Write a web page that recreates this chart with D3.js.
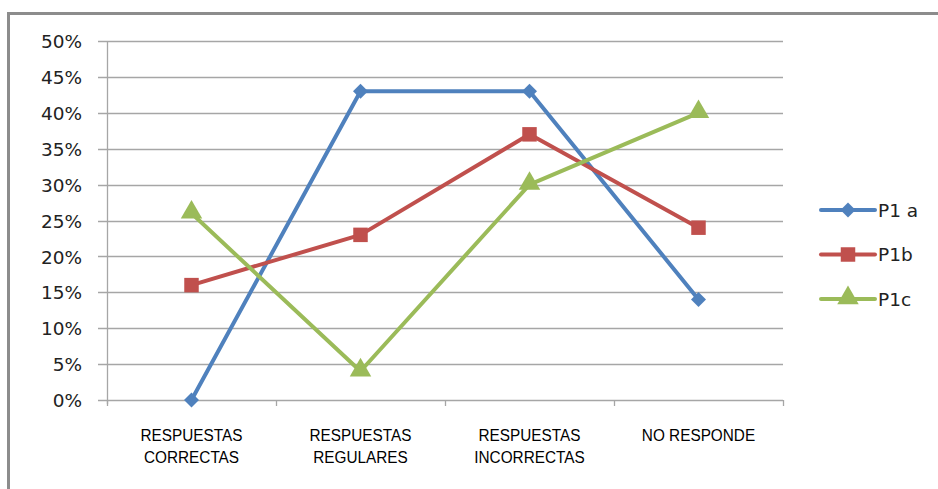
<!DOCTYPE html>
<html><head><meta charset="utf-8">
<script src="https://cdn.jsdelivr.net/npm/d3@7"></script>
<style>body{margin:0;background:#fff}svg{display:block}</style>
</head><body>
<svg id="c" width="938" height="489"></svg>
<script>
const categories = [["RESPUESTAS","CORRECTAS"],["RESPUESTAS","REGULARES"],["RESPUESTAS","INCORRECTAS"],["NO RESPONDE"]];
const seriesNames = ["P1 a","P1b","P1c"];
const p1a = [0, 43, 43, 14];
const p1b = [16, 23, 37, 24];
const p1c = [26, 4, 30, 40];
const yTicks = [0,5,10,15,20,25,30,35,40,45,50];
const colors = ["#4F81BD","#C0504D","#9BBB59"];

const svg = d3.select("#c");
const tickFont = "'DejaVu Sans','Liberation Sans',sans-serif";
const catFont = "'Liberation Sans',sans-serif";

// marker shapes
const diamond = {draw(ctx,size){const r=Math.sqrt(size/2);ctx.moveTo(0,-r);ctx.lineTo(r,0);ctx.lineTo(0,r);ctx.lineTo(-r,0);ctx.closePath();}};
const symbols = [diamond, d3.symbolSquare, d3.symbolTriangle];
const symSizes = [112, 210, 200];

// outer frame
svg.append("rect").attr("x",8.5).attr("y",13.5).attr("width",1000).attr("height",600)
  .attr("fill","none").attr("stroke","#8c8c8c").attr("stroke-width",3);

const x = d3.scaleBand().domain(d3.range(categories.length)).range([107,783]);
const y = d3.scaleLinear().domain([0,50]).range([400,41]);

// gridlines
svg.append("g").selectAll("line").data(yTicks).join("line")
  .attr("x1",98).attr("x2",783).attr("y1",d=>Math.round(y(d))+0.5).attr("y2",d=>Math.round(y(d))+0.5)
  .attr("stroke","#a6a6a6").attr("stroke-width",1.3);
const yAxis = d3.axisLeft(y).tickValues(yTicks).tickFormat(d=>d+"%").tickSize(0).tickPadding(25);
const gy = svg.append("g").attr("transform","translate(107,0)").call(yAxis);
gy.select(".domain").remove();
gy.selectAll("text").attr("font-family",tickFont).attr("font-size",18.5).attr("fill","#222").attr("dy","0.36em");
// y axis line
svg.append("line").attr("x1",107.5).attr("x2",107.5).attr("y1",41).attr("y2",404).attr("stroke","#a6a6a6").attr("stroke-width",1.3);

// x axis ticks
const bounds = d3.range(categories.length+1).map(i=>107+i*x.step());
svg.append("g").selectAll("line").data(bounds).join("line")
  .attr("x1",d=>Math.round(d)+0.5).attr("x2",d=>Math.round(d)+0.5).attr("y1",400).attr("y2",406)
  .attr("stroke","#a6a6a6").attr("stroke-width",1.3);

// category labels
const cx = i => x(i)+x.bandwidth()/2;
const lab = svg.append("g").selectAll("text").data(categories).join("text")
  .attr("transform",(d,i)=>`translate(${cx(i)},441) scale(0.93,1)`)
  .attr("text-anchor","middle").attr("font-family",catFont).attr("font-size",16.5).attr("fill","#000");
lab.selectAll("tspan").data(d=>d).join("tspan")
  .attr("x",0).attr("dy",(d,i)=>i===0?0:22).text(d=>d);

const allSeries = [p1a,p1b,p1c];
const line = d3.line().x((d,i)=>cx(i)).y(d=>y(d));
allSeries.forEach((s,k)=>{
  svg.append("path").datum(s).attr("d",line).attr("fill","none")
    .attr("stroke",colors[k]).attr("stroke-width",4).attr("stroke-linejoin","round");
});
allSeries.forEach((s,k)=>{
  svg.append("g").selectAll("path").data(s).join("path")
    .attr("transform",(d,i)=>`translate(${cx(i)},${y(d)+(k===2?-1:0)})`)
    .attr("d",d3.symbol().type(symbols[k]).size(symSizes[k]))
    .attr("fill",colors[k]);
});

// legend
const leg = svg.append("g");
seriesNames.forEach((n,k)=>{
  const yy = 210 + k*44.5;
  leg.append("line").attr("x1",821).attr("x2",875).attr("y1",yy).attr("y2",yy)
    .attr("stroke",colors[k]).attr("stroke-width",4).attr("stroke-linecap","round");
  leg.append("path").attr("transform",`translate(848,${yy+(k===2?-1:0)})`)
    .attr("d",d3.symbol().type(symbols[k]).size(symSizes[k])).attr("fill",colors[k]);
  leg.append("text").attr("x",878).attr("y",yy).attr("dy","0.36em").text(n)
    .attr("font-family",tickFont).attr("font-size",18.5).attr("fill","#222");
});
</script>
</body></html>
